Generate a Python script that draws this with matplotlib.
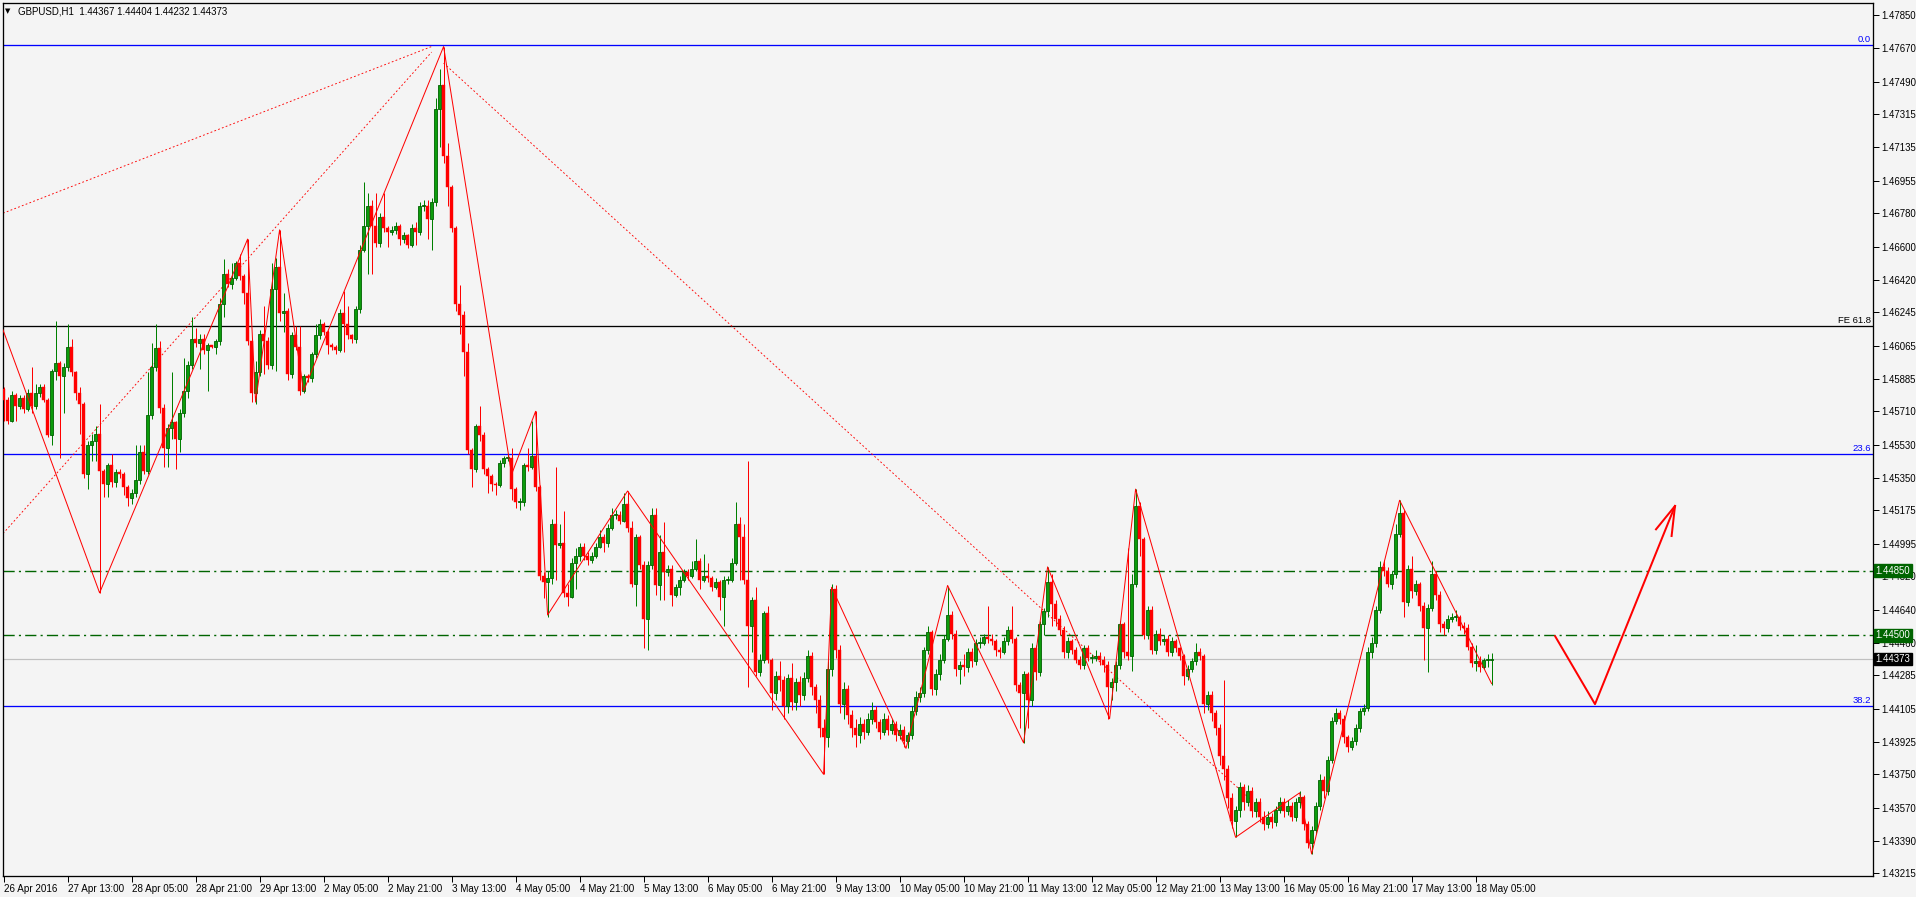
import numpy as np
import matplotlib
matplotlib.use("Agg")
from matplotlib import pyplot as plt
from matplotlib import transforms

# ---- data (prices in pips x 1e-4) ----
first_open = 14583
closes = [
    14577, 14566, 14580, 14574, 14578, 14572, 14581, 14574, 14581, 14584, 14577, 14558, 14593, 14597, 14590, 14595,
    14606, 14592, 14581, 14575, 14537, 14553, 14555, 14559, 14539, 14532, 14542, 14533, 14538, 14537, 14530, 14524,
    14527, 14534, 14549, 14539, 14569, 14595, 14605, 14573, 14551, 14562, 14565, 14556, 14570, 14582, 14596, 14610,
    14608, 14610, 14604, 14607, 14606, 14609, 14629, 14645, 14640, 14643, 14651, 14644, 14635, 14609, 14581, 14592,
    14613, 14609, 14596, 14637, 14649, 14624, 14625, 14591, 14612, 14606, 14582, 14590, 14589, 14602, 14612, 14618,
    14614, 14607, 14606, 14604, 14624, 14618, 14612, 14610, 14626, 14658, 14671, 14682, 14671, 14662, 14676, 14670,
    14668, 14669, 14671, 14664, 14666, 14661, 14670, 14668, 14682, 14682, 14675, 14684, 14734, 14747, 14709, 14692,
    14670, 14629, 14623, 14603, 14550, 14540, 14563, 14558, 14540, 14536, 14532, 14531, 14543, 14546, 14546, 14529,
    14522, 14522, 14542, 14541, 14547, 14530, 14482, 14479, 14481, 14510, 14499, 14500, 14473, 14471, 14489, 14493,
    14498, 14493, 14491, 14493, 14498, 14503, 14500, 14508, 14515, 14515, 14512, 14521, 14508, 14478, 14503, 14488,
    14459, 14488, 14515, 14477, 14495, 14484, 14486, 14472, 14476, 14480, 14484, 14482, 14486, 14490, 14480, 14482,
    14481, 14476, 14479, 14471, 14480, 14480, 14489, 14510, 14503, 14480, 14455, 14469, 14430, 14437, 14462, 14437,
    14419, 14428, 14426, 14412, 14427, 14414, 14425, 14418, 14427, 14439, 14422, 14415, 14400, 14395, 14432, 14475,
    14442, 14413, 14421, 14407, 14400, 14396, 14402, 14398, 14405, 14410, 14403, 14398, 14405, 14399, 14402, 14396,
    14399, 14393, 14396, 14409, 14417, 14419, 14442, 14452, 14421, 14429, 14437, 14448, 14461, 14451, 14432, 14434,
    14433, 14441, 14436, 14446, 14446, 14449, 14448, 14447, 14442, 14441, 14447, 14453, 14448, 14423, 14419, 14429,
    14415, 14443, 14430, 14456, 14463, 14479, 14467, 14459, 14453, 14441, 14447, 14442, 14437, 14434, 14443, 14438,
    14438, 14439, 14437, 14434, 14422, 14425, 14434, 14456, 14441, 14439, 14478, 14520, 14502, 14450, 14464, 14442,
    14451, 14447, 14448, 14441, 14447, 14443, 14439, 14428, 14432, 14436, 14441, 14439, 14413, 14418, 14408, 14400,
    14385, 14378, 14362, 14350, 14356, 14368, 14360, 14366, 14355, 14360, 14352, 14348, 14352, 14349, 14356, 14360,
    14355, 14358, 14352, 14360, 14363, 14348, 14338, 14345, 14358, 14372, 14366, 14383, 14404, 14408, 14405, 14395,
    14390, 14393, 14400, 14409, 14411, 14441, 14446, 14464, 14487, 14485, 14478, 14483, 14505, 14516, 14468, 14486,
    14474, 14478, 14466, 14454, 14465, 14483, 14472, 14456, 14454, 14459, 14460, 14460, 14455, 14454, 14444, 14435,
    14436, 14433, 14437, 14437, 14437.3,
]
highs = [
    14584, 14579, 14582, 14581, 14580, 14580, 14583, 14595, 14586, 14586, 14586, 14578, 14594, 14620, 14598, 14597,
    14618, 14610, 14593, 14584, 14576, 14555, 14559, 14563, 14575, 14540, 14543, 14548, 14540, 14540, 14538, 14531,
    14529, 14553, 14553, 14553, 14592, 14608, 14618, 14609, 14575, 14564, 14592, 14566, 14572, 14600, 14598, 14622,
    14616, 14613, 14613, 14608, 14607, 14610, 14632, 14653, 14648, 14651, 14652, 14656, 14645, 14664, 14610, 14598,
    14615, 14628, 14611, 14651, 14654, 14669, 14635, 14627, 14614, 14617, 14617, 14591, 14591, 14603, 14618, 14621,
    14619, 14615, 14608, 14607, 14626, 14636, 14628, 14613, 14628, 14661, 14695, 14689, 14685, 14689, 14678, 14689,
    14671, 14671, 14673, 14672, 14668, 14667, 14672, 14673, 14684, 14685, 14685, 14686, 14740, 14756, 14768, 14716,
    14693, 14671, 14639, 14625, 14608, 14551, 14564, 14574, 14560, 14541, 14537, 14533, 14545, 14547, 14548, 14551,
    14530, 14524, 14543, 14551, 14566, 14571, 14531, 14484, 14485, 14513, 14541, 14510, 14517, 14478, 14492, 14497,
    14500, 14500, 14495, 14495, 14500, 14507, 14505, 14510, 14519, 14518, 14517, 14527, 14528, 14512, 14505, 14504,
    14490, 14490, 14519, 14519, 14504, 14511, 14488, 14488, 14478, 14482, 14486, 14486, 14490, 14502, 14492, 14494,
    14489, 14482, 14481, 14480, 14482, 14482, 14492, 14522, 14514, 14510, 14544, 14471, 14476, 14440, 14463, 14466,
    14438, 14431, 14436, 14428, 14429, 14435, 14427, 14428, 14430, 14442, 14441, 14424, 14418, 14405, 14436, 14478,
    14477, 14445, 14425, 14423, 14410, 14405, 14406, 14405, 14408, 14414, 14412, 14405, 14408, 14407, 14405, 14404,
    14402, 14401, 14398, 14412, 14420, 14422, 14444, 14455, 14453, 14432, 14440, 14450, 14476, 14463, 14453, 14436,
    14440, 14443, 14443, 14448, 14449, 14451, 14466, 14451, 14448, 14444, 14449, 14455, 14466, 14449, 14425, 14431,
    14430, 14446, 14445, 14458, 14465, 14487, 14483, 14469, 14461, 14455, 14449, 14448, 14444, 14439, 14445, 14445,
    14440, 14442, 14441, 14439, 14436, 14427, 14436, 14458, 14457, 14497, 14483, 14529, 14522, 14503, 14466, 14466,
    14453, 14454, 14450, 14450, 14449, 14448, 14444, 14440, 14434, 14438, 14446, 14443, 14440, 14420, 14420, 14410,
    14402, 14426, 14380, 14365, 14358, 14371, 14370, 14369, 14368, 14362, 14362, 14355, 14355, 14354, 14358, 14363,
    14362, 14361, 14360, 14362, 14366, 14364, 14350, 14347, 14360, 14375, 14374, 14385, 14406, 14411, 14410, 14407,
    14396, 14395, 14402, 14411, 14413, 14444, 14449, 14466, 14490, 14491, 14487, 14485, 14510, 14523, 14518, 14488,
    14493, 14480, 14479, 14468, 14467, 14490, 14485, 14474, 14458, 14461, 14462, 14464, 14461, 14457, 14456, 14446,
    14445, 14439, 14438, 14440, 14440.4,
]
lows = [
    14566, 14564, 14565, 14566, 14572, 14570, 14571, 14570, 14572, 14579, 14576, 14557, 14553, 14588, 14546, 14570,
    14593, 14590, 14577, 14559, 14535, 14529, 14544, 14544, 14473, 14525, 14525, 14530, 14530, 14535, 14526, 14520,
    14521, 14525, 14532, 14537, 14537, 14567, 14593, 14570, 14541, 14541, 14556, 14540, 14549, 14568, 14578, 14594,
    14606, 14594, 14602, 14582, 14605, 14602, 14607, 14622, 14638, 14637, 14642, 14642, 14629, 14607, 14576, 14575,
    14590, 14591, 14594, 14594, 14593, 14620, 14614, 14588, 14589, 14604, 14580, 14581, 14587, 14587, 14600, 14610,
    14612, 14602, 14604, 14602, 14603, 14603, 14610, 14608, 14608, 14624, 14657, 14645, 14645, 14660, 14660, 14668,
    14660, 14666, 14667, 14661, 14662, 14659, 14660, 14661, 14666, 14679, 14664, 14658, 14682, 14714, 14705, 14682,
    14668, 14625, 14613, 14590, 14548, 14530, 14538, 14555, 14537, 14527, 14528, 14526, 14530, 14541, 14544, 14523,
    14519, 14518, 14520, 14539, 14540, 14528, 14480, 14470, 14460, 14478, 14480, 14497, 14471, 14466, 14470, 14475,
    14490, 14491, 14488, 14489, 14492, 14497, 14495, 14498, 14507, 14513, 14510, 14511, 14506, 14476, 14466, 14486,
    14443, 14442, 14486, 14472, 14469, 14469, 14482, 14466, 14471, 14472, 14479, 14480, 14481, 14485, 14475, 14479,
    14479, 14474, 14475, 14464, 14455, 14478, 14479, 14488, 14480, 14478, 14422, 14441, 14428, 14428, 14435, 14435,
    14410, 14415, 14420, 14405, 14408, 14410, 14410, 14412, 14415, 14425, 14418, 14408, 14395, 14375, 14390, 14428,
    14438, 14408, 14405, 14402, 14395, 14390, 14392, 14394, 14396, 14402, 14400, 14394, 14396, 14396, 14397, 14393,
    14394, 14390, 14389, 14394, 14407, 14414, 14417, 14440, 14418, 14418, 14426, 14435, 14447, 14448, 14428, 14424,
    14428, 14430, 14433, 14434, 14443, 14445, 14446, 14445, 14439, 14438, 14440, 14445, 14446, 14420, 14400, 14392,
    14400, 14412, 14426, 14428, 14450, 14460, 14455, 14455, 14450, 14438, 14438, 14440, 14435, 14432, 14432, 14436,
    14435, 14436, 14434, 14430, 14405, 14415, 14420, 14432, 14438, 14437, 14431, 14476, 14493, 14448, 14448, 14440,
    14440, 14445, 14445, 14439, 14439, 14441, 14437, 14423, 14426, 14430, 14434, 14437, 14408, 14410, 14404, 14396,
    14380, 14372, 14357, 14346, 14341, 14352, 14356, 14358, 14352, 14352, 14349, 14345, 14346, 14346, 14347, 14354,
    14352, 14353, 14350, 14350, 14357, 14345, 14335, 14332, 14343, 14356, 14362, 14364, 14381, 14402, 14402, 14392,
    14387, 14388, 14391, 14398, 14407, 14409, 14438, 14444, 14462, 14482, 14476, 14475, 14481, 14503, 14460, 14466,
    14470, 14472, 14463, 14437, 14430, 14463, 14469, 14452, 14450, 14452, 14457, 14458, 14453, 14451, 14442, 14433,
    14431, 14430, 14432, 14433, 14423.2,
]

tick_pos = list(range(0, 369, 16))
tick_labels = ["26 Apr 2016", "27 Apr 13:00", "28 Apr 05:00", "28 Apr 21:00", "29 Apr 13:00", "2 May 05:00",
               "2 May 21:00", "3 May 13:00", "4 May 05:00", "4 May 21:00", "5 May 13:00", "6 May 05:00",
               "6 May 21:00", "9 May 13:00", "10 May 05:00", "10 May 21:00", "11 May 13:00", "12 May 05:00",
               "12 May 21:00", "13 May 13:00", "16 May 05:00", "16 May 21:00", "17 May 13:00", "18 May 05:00"]
price_ticks = [1.47850, 1.47670, 1.47490, 1.47315, 1.47135, 1.46955, 1.46780, 1.46600, 1.46420, 1.46245,
               1.46065, 1.45885, 1.45710, 1.45530, 1.45350, 1.45175, 1.44995, 1.44820, 1.44640, 1.44460,
               1.44285, 1.44105, 1.43925, 1.43750, 1.43570, 1.43390, 1.43215]

# fibo levels / horizontal lines
fibo_levels = {"0.0": 1.47688, "23.6": 1.45481, "38.2": 1.44118}
fe_level = 1.46171
green_levels = [1.44850, 1.44500]
bid = 1.44373

# zigzag pivots (bar index, price)
zz_x = [-0.15, 24, 61, 63, 69, 75, 110, 127, 133, 136, 156, 205, 207, 225.6, 236, 255, 261, 276.5, 283,
        308, 324, 327, 349, 372]
zz_y = [1.4615, 1.4473, 1.4664, 1.4576, 1.4669, 1.4582, 1.4768, 1.4537, 1.4571, 1.4461, 1.4528, 1.4375,
        1.4476, 1.4389, 1.4477, 1.4392, 1.4487, 1.4405, 1.4529, 1.4341, 1.4365, 1.4332, 1.4523, 1.4424]

# dotted trend lines
dot_lines = [((-0.15, 107), (1.4678, 1.4768)),
             ((-0.15, 107), (1.4505, 1.4765)),
             ((110, 313), (1.4759, 1.4359))]

# hand drawn arrow
arrow_x = [387.85, 397.85, 417.85]
arrow_y = [1.44497, 1.44129, 1.45199]
barb1 = ([417.85, 413.1], [1.45199, 1.45073])
barb2 = ([417.85, 417.0], [1.45199, 1.45037])

# ---- build ohlc ----
c = np.array(closes) / 10000.0
o = np.concatenate([[first_open / 10000.0], c[:-1]])
o[-1] = 1.44367
h = np.maximum(np.array(highs) / 10000.0, np.maximum(o, c))
l = np.minimum(np.array(lows) / 10000.0, np.minimum(o, c))
x = np.arange(len(c))

BG = "#f4f4f4"
W, H = 1916, 897
fig = plt.figure(figsize=(W / 100, H / 100), dpi=100, facecolor=BG)
ax = fig.add_axes([3 / W, 21 / H, 1870 / W, 873 / H], facecolor=BG)
ax.set_xlim(-0.15, 467.35)
ax.set_ylim(1.43201, 1.47915)

px = 0.72  # 1 pixel in points
FONT = "Liberation Sans"

# horizontal lines
for name, lvl in fibo_levels.items():
    ax.axhline(lvl, color="#0000ff", lw=1.3 * px, zorder=1)
    ax.annotate(name, xy=(1, lvl), xycoords=("axes fraction", "data"), xytext=(-2, 1),
                textcoords="offset pixels", ha="right", va="bottom", color="#0000ff",
                fontsize=6.8, family=FONT)
ax.axhline(fe_level, color="black", lw=1.3 * px, zorder=1)
ax.annotate("FE 61.8", xy=(1, fe_level), xycoords=("axes fraction", "data"), xytext=(-2, 1),
            textcoords="offset pixels", ha="right", va="bottom", color="black",
            fontsize=6.8, family=FONT)
for lvl in green_levels:
    ax.axhline(lvl, color="#006400", lw=1.4 * px, dashes=(8, 3, 1.5, 3), zorder=1)
ax.axhline(bid, color="#c0c0c0", lw=1.2 * px, zorder=1)

# dotted lines
for xs, ys in dot_lines:
    ax.plot(xs, ys, color="#ff0000", lw=0.9 * px, dashes=(2, 2.5), zorder=2)

# candles
bull = c >= o
wick_col = np.where(bull, "#008000", "#ff0000")
ax.vlines(x, l, h, colors=wick_col, lw=1.0 * px, zorder=3)
body_lo = np.minimum(o, c)
body_h = np.maximum(np.abs(c - o), 0.00004)
ax.bar(x[bull], body_h[bull], bottom=body_lo[bull], width=0.75, color="#0c9c0c",
       edgecolor="#006000", linewidth=0.6, zorder=4)
ax.bar(x[~bull], body_h[~bull], bottom=body_lo[~bull], width=0.75, color="#ff0000",
       edgecolor="#ff0000", linewidth=0.3, zorder=4)

# zigzag
ax.plot(zz_x, zz_y, color="#ff0000", lw=1.0 * px, zorder=5)

# arrow drawing
ax.plot(arrow_x, arrow_y, color="#ff0000", lw=2.0 * px, zorder=5, solid_capstyle="round")
ax.plot(*barb1, color="#ff0000", lw=2.0 * px, zorder=5)
ax.plot(*barb2, color="#ff0000", lw=2.0 * px, zorder=5)

# axes styling
for s in ax.spines.values():
    s.set_color("black")
    s.set_linewidth(1.3 * px)
ax.yaxis.tick_right()
ax.set_yticks(price_ticks)
ax.set_yticklabels(["%.5f" % p for p in price_ticks])
ax.set_xticks(tick_pos)
ax.set_xticklabels(tick_labels)
ax.tick_params(axis="both", direction="out", length=4, width=1 * px, color="black",
               labelcolor="black", pad=2)
ax.tick_params(axis="x", labelsize=7.1)
ax.tick_params(axis="y", labelsize=6.9)
for t in ax.get_xticklabels():
    t.set_ha("left")
    t.set_family(FONT)
for t in ax.get_yticklabels():
    t.set_family(FONT)

# price labels on the right axis
blend = transforms.blended_transform_factory(ax.transAxes, ax.transData)
for lvl in green_levels:
    ax.text(1.0015, lvl, "%.5f" % lvl, transform=blend, ha="left", va="center", color="white",
            fontsize=6.9, family=FONT, zorder=10,
            bbox=dict(boxstyle="square,pad=0.15", fc="#006400", ec="#006400"), clip_on=False)
ax.text(1.0015, bid, "%.5f" % bid, transform=blend, ha="left", va="center", color="white",
        fontsize=6.9, family=FONT, zorder=10,
        bbox=dict(boxstyle="square,pad=0.15", fc="black", ec="black"), clip_on=False)

# header
fig.text(5 / W, 1 - 11 / H, "\u25bc", fontsize=5, color="black", va="center", family="DejaVu Sans")
fig.text(18 / W, 1 - 11 / H, "GBPUSD,H1  1.44367 1.44404 1.44232 1.44373", fontsize=7.0,
         color="black", va="center", family=FONT)

fig.savefig("out.png", dpi=100, facecolor=BG)
